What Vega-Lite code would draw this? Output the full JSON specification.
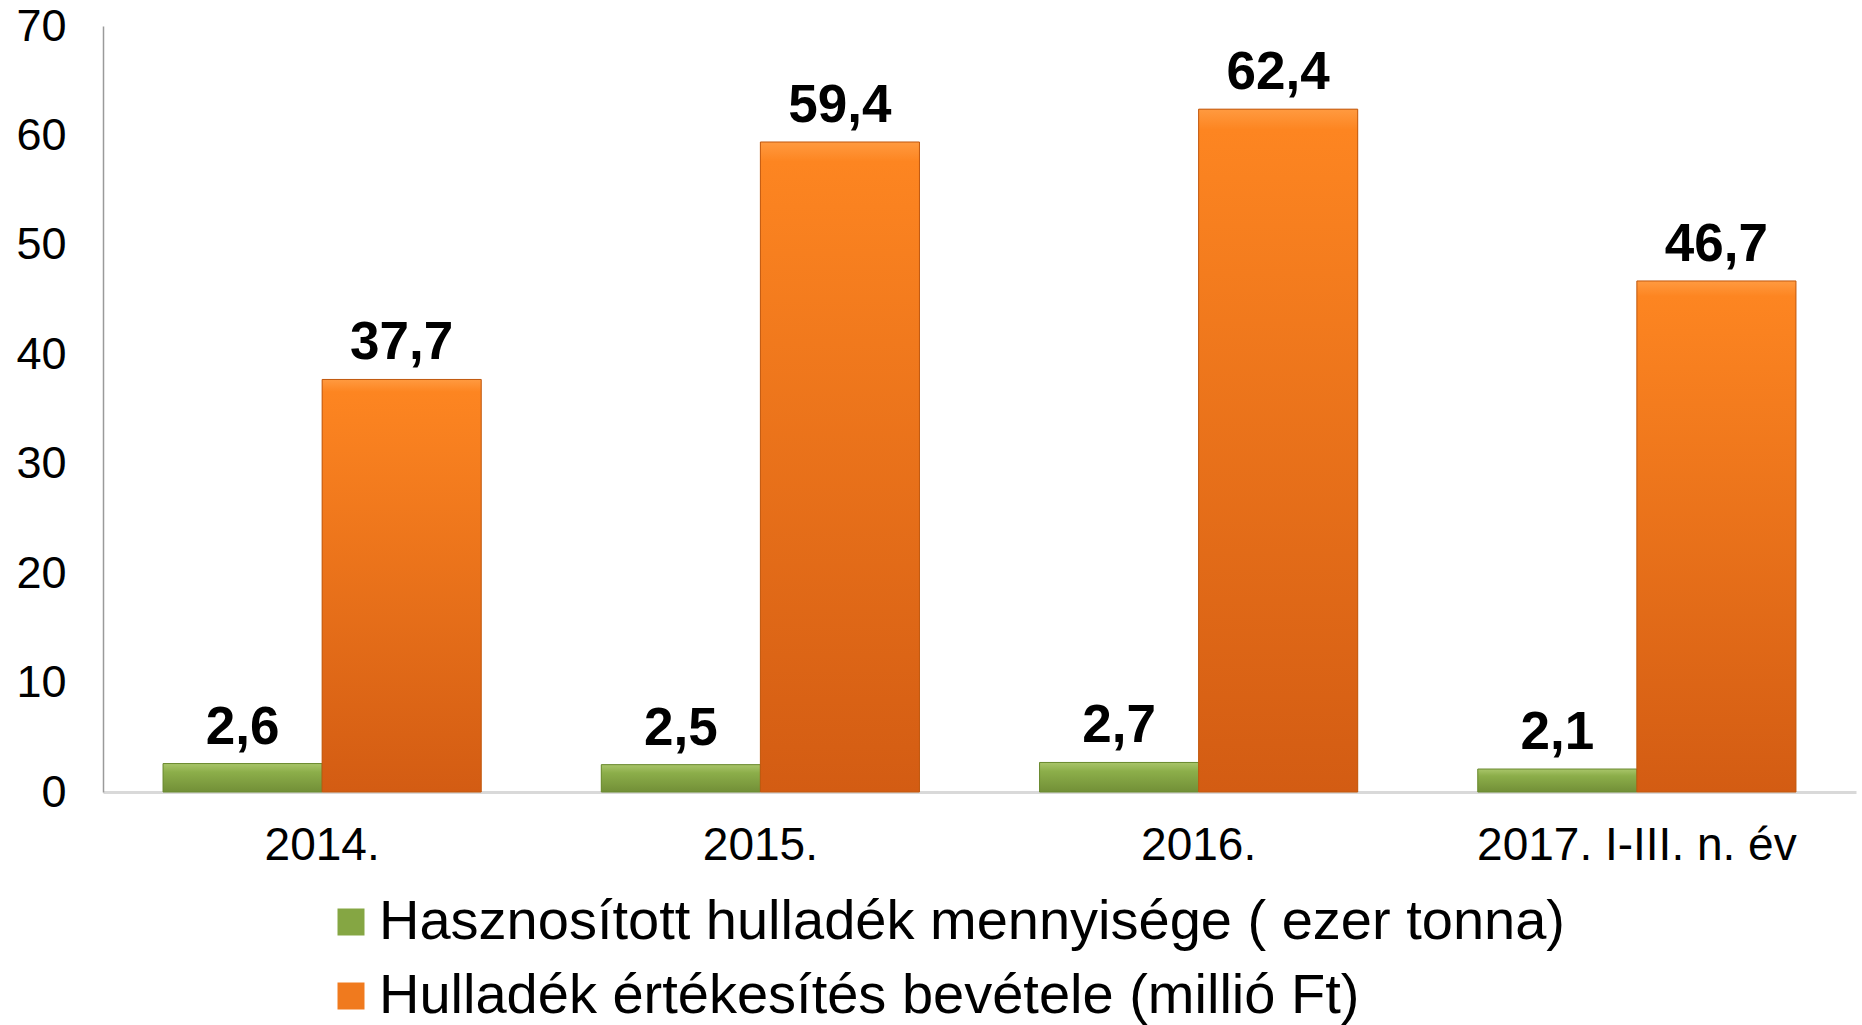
{
  "$schema": "https://vega.github.io/schema/vega-lite/v6.json",
  "width": 1753,
  "height": 766,
  "autosize": {"type": "none"},
  "padding": {"left": 103, "top": 26, "right": 6, "bottom": 233},
  "background": "white",
  "config": {
    "view": {"stroke": null},
    "font": "Liberation Sans",
    "locale": {"number": {"decimal": ",", "thousands": " ", "grouping": [3], "currency": ["", " Ft"]}}
  },
  "data": {
    "values": [
      {"year": "2014.", "series": "Hasznosított hulladék mennyisége ( ezer tonna)", "value": 2.6},
      {"year": "2014.", "series": "Hulladék értékesítés bevétele (millió Ft)", "value": 37.7},
      {"year": "2015.", "series": "Hasznosított hulladék mennyisége ( ezer tonna)", "value": 2.5},
      {"year": "2015.", "series": "Hulladék értékesítés bevétele (millió Ft)", "value": 59.4},
      {"year": "2016.", "series": "Hasznosított hulladék mennyisége ( ezer tonna)", "value": 2.7},
      {"year": "2016.", "series": "Hulladék értékesítés bevétele (millió Ft)", "value": 62.4},
      {"year": "2017. I-III. n. év", "series": "Hasznosított hulladék mennyisége ( ezer tonna)", "value": 2.1},
      {"year": "2017. I-III. n. év", "series": "Hulladék értékesítés bevétele (millió Ft)", "value": 46.7}
    ]
  },
  "encoding": {
    "x": {
      "field": "year", "type": "nominal", "sort": null,
      "scale": {"paddingInner": 0.274, "paddingOuter": 0.137},
      "axis": {
        "title": null, "labelAngle": 0, "labelFontSize": 46, "labelColor": "#000000",
        "labelPadding": 31, "labelLimit": 0, "ticks": false, "tickSize": 0,
        "domainColor": "#d9d9d9", "domainWidth": 3, "grid": false
      }
    },
    "xOffset": {"field": "series", "type": "nominal", "sort": null, "scale": {"paddingInner": 0, "paddingOuter": 0}},
    "y": {
      "field": "value", "type": "quantitative",
      "scale": {"domain": [0, 70], "nice": false},
      "axis": {
        "title": null, "values": [0, 10, 20, 30, 40, 50, 60, 70], "labelFontSize": 45,
        "labelColor": "#000000", "labelPadding": 37, "ticks": false, "tickSize": 0,
        "domainColor": "#9a9a9a", "domainWidth": 1.5, "grid": false
      }
    }
  },
  "layer": [
    {
      "mark": {"type": "bar"},
      "encoding": {
        "color": {
          "field": "series", "type": "nominal", "sort": null,
          "scale": {"range": ["#85a643", "#f07a1e"]},
          "legend": {
            "orient": "none", "legendX": 220, "legendY": 868, "title": null,
            "labelFontSize": 56, "labelColor": "#000000", "symbolType": "square", "symbolSize": 729,
            "rowPadding": 18, "labelOffset": 0, "padding": 0, "labelLimit": 0,
            "direction": "vertical", "symbolStrokeWidth": 0
          }
        }
      }
    },
    {
      "transform": [{"filter": "datum.series == 'Hasznosított hulladék mennyisége ( ezer tonna)'"}],
      "mark": {
        "type": "bar",
        "stroke": "#6a8a30", "strokeWidth": 1,
        "fill": {"gradient": "linear", "x1": 0, "y1": 0, "x2": 0, "y2": 1,
          "stops": [{"offset": 0, "color": "#a9c56a"}, {"offset": 0.3, "color": "#8cae4a"}, {"offset": 1, "color": "#728f37"}]}
      }
    },
    {
      "transform": [{"filter": "datum.series == 'Hulladék értékesítés bevétele (millió Ft)'"}],
      "mark": {
        "type": "bar",
        "stroke": "#c0580f", "strokeWidth": 1,
        "fill": {"gradient": "linear", "x1": 0, "y1": 0, "x2": 0, "y2": 1,
          "stops": [{"offset": 0, "color": "#ff9a40"}, {"offset": 0.03, "color": "#fd8521"}, {"offset": 1, "color": "#d35c13"}]}
      }
    },
    {
      "mark": {"type": "text", "baseline": "alphabetic", "dy": -20, "fontSize": 53, "fontWeight": "bold", "color": "#000000"},
      "encoding": {"text": {"field": "value", "type": "quantitative", "format": ".1f"}}
    }
  ]
}
